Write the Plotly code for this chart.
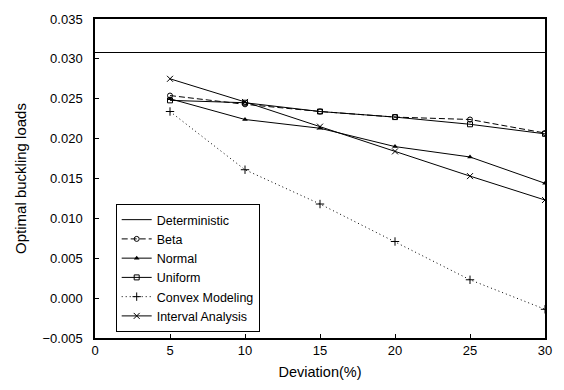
import plotly.graph_objects as go

deviation = [5, 10, 15, 20, 25, 30]
det_x = [0, 30]
deterministic = [0.0308, 0.0308]
beta = [0.0254, 0.0243, 0.0234, 0.0227, 0.0224, 0.0207]
normal = [0.0250, 0.0224, 0.0213, 0.0190, 0.0177, 0.0144]
uniform = [0.0248, 0.0245, 0.0234, 0.0227, 0.0218, 0.0206]
convex = [0.0234, 0.0161, 0.0118, 0.0071, 0.0023, -0.0014]
interval = [0.0275, 0.0246, 0.0215, 0.0184, 0.0153, 0.0123]

FONT = "Liberation Sans, Arial, sans-serif"
fig = go.Figure()
fig.add_trace(go.Scatter(x=det_x, y=deterministic, name="Deterministic", mode="lines",
                         line=dict(color="black", width=1)))
fig.add_trace(go.Scatter(x=deviation, y=beta, name="Beta", mode="lines+markers",
                         line=dict(color="black", width=1, dash="6px,3px"),
                         marker=dict(symbol="circle-open", size=5, color="black", line=dict(width=1))))
fig.add_trace(go.Scatter(x=deviation, y=normal, name="Normal", mode="lines+markers",
                         line=dict(color="black", width=1),
                         marker=dict(symbol="triangle-up", size=5, color="black")))
fig.add_trace(go.Scatter(x=deviation, y=uniform, name="Uniform", mode="lines+markers",
                         line=dict(color="black", width=1),
                         marker=dict(symbol="square-open", size=5, color="black", line=dict(width=1))))
fig.add_trace(go.Scatter(x=deviation, y=convex, name="Convex Modeling", mode="lines+markers",
                         line=dict(color="black", width=1, dash="1px,3px"),
                         marker=dict(symbol="cross-thin-open", size=6, color="black", line=dict(width=1, color="black"))))
fig.add_trace(go.Scatter(x=deviation, y=interval, name="Interval Analysis", mode="lines+markers",
                         line=dict(color="black", width=1),
                         marker=dict(symbol="x-thin-open", size=6, color="black", line=dict(width=1, color="black"))))

fig.update_layout(
    width=564, height=390,
    margin=dict(l=95, r=16, t=15, b=52),
    paper_bgcolor="white", plot_bgcolor="white",
    font=dict(family=FONT, size=13, color="black"),
    legend=dict(x=0.046, y=0.42, xanchor="left", yanchor="top",
                bordercolor="black", borderwidth=1, bgcolor="white",
                font=dict(size=12.5), tracegroupgap=0, itemwidth=30),
    showlegend=True,
)
fig.update_xaxes(range=[0, 30], tickvals=[0, 5, 10, 15, 20, 25, 30],
                 ticks="inside", ticklen=4, tickcolor="black", tickfont=dict(size=13),
                 showline=True, linecolor="black", linewidth=1.5, mirror=True,
                 showgrid=False, zeroline=False,
                 title=dict(text="Deviation(%)", font=dict(size=14.5), standoff=10))
fig.update_yaxes(range=[-0.005, 0.035], tickvals=[-0.005, 0, 0.005, 0.01, 0.015, 0.02, 0.025, 0.03, 0.035],
                 tickformat=".3f", tickfont=dict(size=13), ticklabelstandoff=8,
                 ticks="inside", ticklen=4, tickcolor="black",
                 showline=True, linecolor="black", linewidth=1.5, mirror=True,
                 showgrid=False, zeroline=False,
                 title=dict(text="Optimal buckling loads", font=dict(size=15), standoff=12))
fig.write_html("out.html")
